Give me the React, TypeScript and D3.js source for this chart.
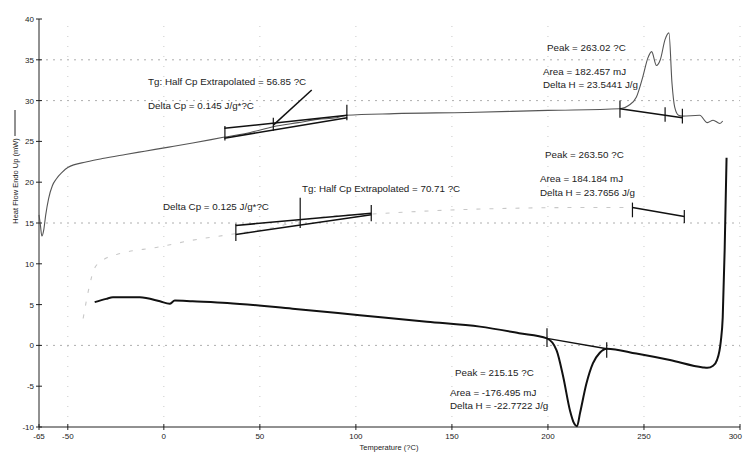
import React from "react";
import * as d3 from "d3";

// Run 1 (first heating, thin grey)
const run1T = [-65, -64.3, -63.5, -62.5, -61.5, -60, -58, -56, -53, -50, -40, -32, -20, -10, 2.6, 15, 31, 45, 57, 70, 80, 90, 95, 120, 158, 200, 237.5, 242, 246, 249.5, 252, 254, 256.5, 258.5, 261, 263, 264.6, 266, 268, 270, 279, 283, 286, 289.5, 291];
const run1V = [16.0, 14.8, 13.4, 14.2, 16.0, 18.0, 19.6, 20.4, 21.2, 21.8, 22.5, 22.9, 23.4, 23.8, 24.3, 24.8, 25.5, 26.1, 26.8, 27.3, 27.7, 27.9, 28.2, 28.4, 28.55, 28.8, 29.0, 29.4, 30.4, 33.0, 35.2, 36.0, 34.3, 35.0, 37.5, 38.3, 32.1, 29.2, 28.2, 28.1, 28.2, 27.3, 27.6, 27.2, 27.5];

// Run 2 (second heating, faint)
const run2T = [-42, -39, -36, -30, -22, -4, 15, 37.5, 60, 71, 90, 108, 140, 180, 220, 244];
const run2V = [3.3, 7.0, 9.5, 10.7, 11.3, 12.0, 12.9, 13.7, 14.6, 15.3, 15.9, 16.1, 16.5, 16.8, 16.9, 16.9];

// Run 3 (cooling, thick black)
const run3T = [-36, -30, -26.5, -12.5, -2, 3, 5.7, 15, 33, 67, 102, 137, 164.6, 185, 199.5, 204.5, 208, 211.5, 213.5, 215.15, 216.7, 220, 223.4, 227, 230.6, 246, 263.5, 280.7, 283, 286, 288, 290, 291, 292, 293];
const run3V = [5.3, 5.7, 5.9, 5.9, 5.4, 5.1, 5.5, 5.4, 5.2, 4.5, 3.7, 2.9, 2.3, 1.5, 0.86, -0.6, -3.9, -8.0, -9.5, -9.9, -8.3, -4.7, -2.2, -0.9, -0.4, -1.0, -1.8, -2.7, -2.75, -2.5, -1.8, 0.5, 3.4, 11.6, 23.0];

const xTicks = [-65, -50, 0, 50, 100, 150, 200, 250, 300];
const yTicks = [-10, -5, 0, 5, 10, 15, 20, 25, 30, 35, 40];
const hGrid = [35, 30, 15, 0];
const vGrid = [-50, 0, 50, 100, 150, 200, 250, 300];

// construction segments: [t1, v1, t2, v2]
const segs: number[][] = [
  // Tg 1
  [31.5, 26.6, 95.5, 28.2],
  [31.5, 25.4, 95.5, 27.9],
  [57, 27.0, 77, 31.3],
  // Tg 2
  [37.5, 14.7, 108, 16.2],
  [37.5, 13.6, 108, 16.0],
  // peak baselines
  [237.5, 29.0, 270, 27.9],
  [244, 16.9, 271, 15.8],
  [199.5, 0.86, 230.6, -0.4],
];
// ticks: [t, vLow, vHigh]
const ticksMarks: number[][] = [
  [31.8, 25.1, 26.9],
  [57, 26.3, 27.9],
  [95.3, 27.6, 29.5],
  [37.5, 12.8, 14.9],
  [71, 14.4, 18.1],
  [108, 15.2, 17.2],
  [237.5, 27.9, 30.0],
  [261, 27.4, 29.2],
  [270, 27.2, 29.0],
  [244, 15.7, 17.5],
  [271, 15.0, 16.6],
  [199.5, -0.2, 2.1],
  [230.6, -1.5, 0.4],
];

const labels: [string, number, number][] = [
  ["Tg: Half Cp Extrapolated = 56.85 ?C", 148, 85],
  ["Delta Cp = 0.145 J/g*?C", 148, 109],
  ["Delta Cp = 0.125 J/g*?C", 163, 210],
  ["Tg: Half Cp Extrapolated = 70.71 ?C", 302, 192],
  ["Peak = 263.02 ?C", 547, 51],
  ["Area = 182.457 mJ", 543, 75],
  ["Delta H = 23.5441 J/g", 543, 88],
  ["Peak = 263.50 ?C", 545, 158],
  ["Area = 184.184 mJ", 540, 182],
  ["Delta H = 23.7656 J/g", 540, 196],
  ["Peak = 215.15 ?C", 455, 376],
  ["Area = -176.495 mJ", 450, 396],
  ["Delta H = -22.7722 J/g", 450, 409],
];

export default function App() {
  const W = 743, H = 453;
  const x = d3.scaleLinear().domain([-65, 300]).range([39, 740]);
  const y = d3.scaleLinear().domain([-10, 40]).range([427, 19]);
  const line = d3
    .line<[number, number]>()
    .x((d) => x(d[0]))
    .y((d) => y(d[1]))
    .curve(d3.curveMonotoneX);
  const zip = (a: number[], b: number[]) => a.map((t, i) => [t, b[i]] as [number, number]);
  const font = "'Liberation Sans', Arial, sans-serif";
  return (
    <svg width={W} height={H} style={{ position: "absolute", left: 0, top: 0, background: "#fff" }} fontFamily={font}>
      <rect width={W} height={H} fill="#fff" />
      {hGrid.map((v) => (
        <line key={"h" + v} x1={x(-65)} x2={x(300)} y1={y(v)} y2={y(v)} stroke="#999" strokeWidth={0.8} strokeDasharray="2 5" />
      ))}
      {vGrid.map((t) => (
        <line key={"v" + t} x1={x(t)} x2={x(t)} y1={y(-10)} y2={y(40)} stroke="#bbb" strokeWidth={0.8} strokeDasharray="1 9" />
      ))}
      {/* axes */}
      <line x1={x(-65)} x2={x(300)} y1={y(-10)} y2={y(-10)} stroke="#222" strokeWidth={1} />
      <line x1={x(-65)} x2={x(-65)} y1={y(-10)} y2={y(40)} stroke="#222" strokeWidth={1} />
      {yTicks.map((v) => (
        <g key={"yt" + v}>
          <line x1={x(-65) - 3} x2={x(-65) + 3} y1={y(v)} y2={y(v)} stroke="#222" strokeWidth={1} />
          <text x={x(-65) - 5} y={y(v) + 3} fontSize={8} textAnchor="end" fill="#222">{v}</text>
        </g>
      ))}
      {xTicks.map((t) => (
        <g key={"xt" + t}>
          <line x1={x(t)} x2={x(t)} y1={y(-10) - 3} y2={y(-10) + 3} stroke="#222" strokeWidth={1} />
          <text x={t === 300 ? W - 1 : x(t)} y={y(-10) + 12} fontSize={8} textAnchor={t === 300 ? "end" : "middle"} fill="#222">{t}</text>
        </g>
      ))}
      <text x={389} y={450} fontSize={7.5} textAnchor="middle" fill="#222">Temperature (?C)</text>
      <text transform="translate(18,181) rotate(-90)" fontSize={7.5} textAnchor="middle" fill="#222">Heat Flow Endo Up (mW)</text>
      <line x1={15} x2={15} y1={110} y2={136} stroke="#222" strokeWidth={1} />
      {/* curves */}
      <path d={line(zip(run2T, run2V)) || ""} fill="none" stroke="#c8c8c8" strokeWidth={1.1} strokeDasharray="4 9" />
      <path d={line(zip(run1T, run1V)) || ""} fill="none" stroke="#555" strokeWidth={1.1} />
      <path d={line(zip(run3T, run3V)) || ""} fill="none" stroke="#111" strokeWidth={2} />
      {segs.map((s, i) => (
        <line key={"s" + i} x1={x(s[0])} y1={y(s[1])} x2={x(s[2])} y2={y(s[3])} stroke="#111" strokeWidth={1.5} />
      ))}
      {ticksMarks.map((m, i) => (
        <line key={"m" + i} x1={x(m[0])} x2={x(m[0])} y1={y(m[1])} y2={y(m[2])} stroke="#111" strokeWidth={1.2} />
      ))}
      {labels.map(([s, lx, ly], i) => (
        <text key={"l" + i} x={lx} y={ly} fontSize={9.8} fill="#222">{s}</text>
      ))}
    </svg>
  );
}
